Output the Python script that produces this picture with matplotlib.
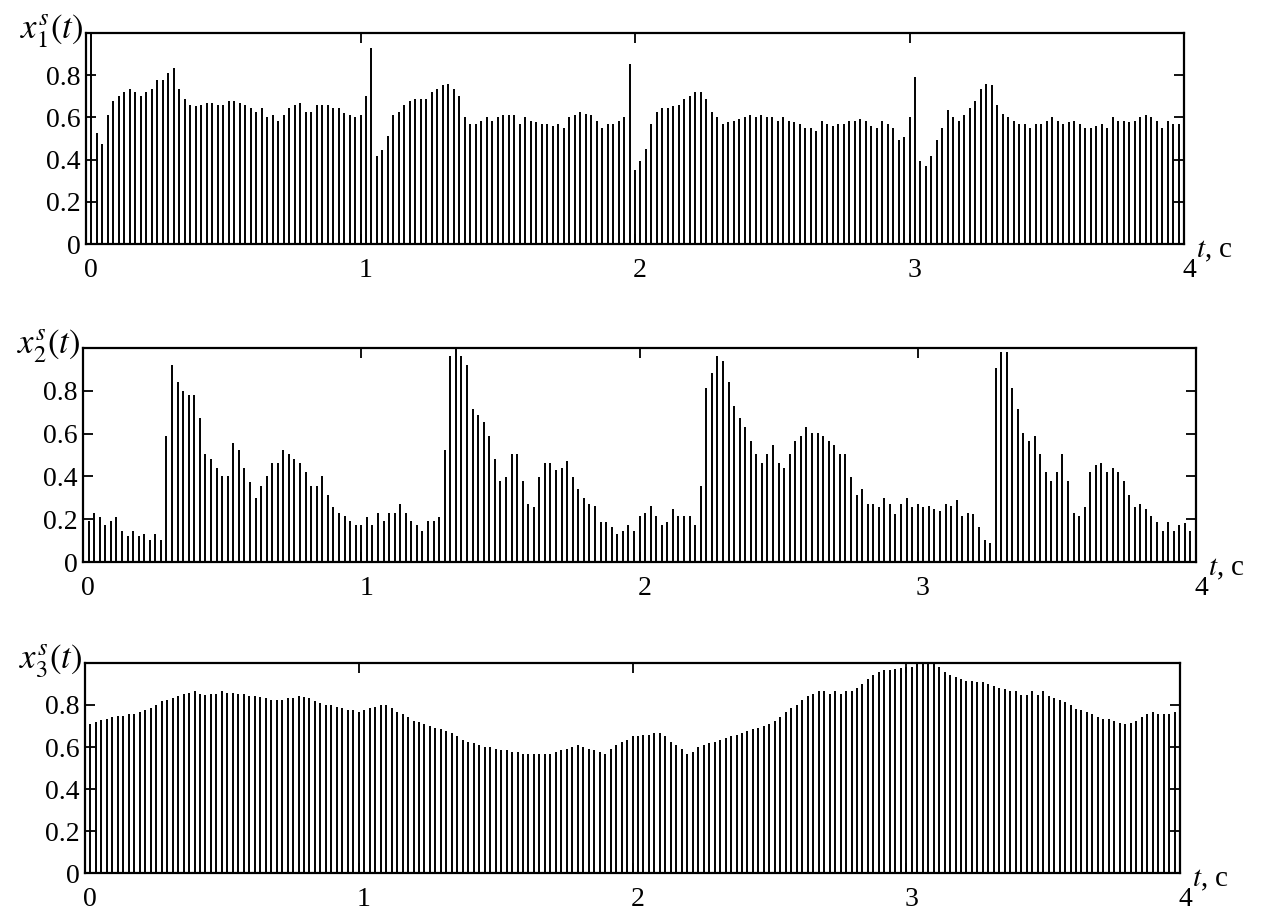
import numpy as np
import matplotlib
matplotlib.use("Agg")
import matplotlib.pyplot as plt
import matplotlib.transforms as mtransforms

plt.rcParams['font.family'] = 'Liberation Serif'
plt.rcParams['mathtext.fontset'] = 'stix'

# sampling step, 200 samples over 4 s
dt = 0.02
t = np.arange(1, 201) * dt

x1 = [1.0, 0.526, 0.476, 0.61, 0.676, 0.70, 0.719, 0.734, 0.719, 0.70,
      0.719, 0.734, 0.775, 0.775, 0.81, 0.834, 0.734, 0.686, 0.66, 0.652,
      0.66, 0.668, 0.668, 0.66, 0.66, 0.676, 0.676, 0.668, 0.66, 0.643,
      0.627, 0.643, 0.602, 0.61, 0.585, 0.61, 0.643, 0.66, 0.668, 0.627,
      0.627, 0.66, 0.66, 0.66, 0.643, 0.643, 0.619, 0.61, 0.602, 0.61,
      0.70, 0.928, 0.419, 0.444, 0.51, 0.61, 0.627, 0.66, 0.676, 0.686,
      0.686, 0.686, 0.719, 0.734, 0.752, 0.76, 0.734, 0.70, 0.602, 0.567,
      0.567, 0.585, 0.602, 0.585, 0.602, 0.61, 0.61, 0.61, 0.567, 0.602,
      0.585, 0.577, 0.567, 0.567, 0.56, 0.567, 0.552, 0.602, 0.61, 0.627,
      0.618, 0.61, 0.585, 0.552, 0.567, 0.567, 0.585, 0.602, 0.851, 0.35,
      0.392, 0.451, 0.567, 0.627, 0.643, 0.643, 0.652, 0.66, 0.686, 0.70,
      0.719, 0.719, 0.686, 0.627, 0.602, 0.567, 0.577, 0.585, 0.594, 0.602,
      0.61, 0.602, 0.61, 0.602, 0.602, 0.585, 0.602, 0.585, 0.577, 0.567,
      0.552, 0.552, 0.534, 0.585, 0.567, 0.56, 0.567, 0.567, 0.585, 0.585,
      0.594, 0.585, 0.56, 0.552, 0.585, 0.567, 0.552, 0.493, 0.509, 0.602,
      0.791, 0.392, 0.369, 0.418, 0.493, 0.552, 0.634, 0.602, 0.585, 0.61,
      0.643, 0.676, 0.734, 0.76, 0.752, 0.66, 0.618, 0.602, 0.585, 0.567,
      0.567, 0.552, 0.567, 0.567, 0.585, 0.602, 0.585, 0.567, 0.577, 0.585,
      0.567, 0.552, 0.552, 0.56, 0.567, 0.552, 0.602, 0.585, 0.585, 0.577,
      0.585, 0.602, 0.61, 0.602, 0.585, 0.552, 0.585, 0.567, 0.567, 0.567]

x2 = [0.19, 0.23, 0.21, 0.172, 0.19, 0.21, 0.145, 0.12, 0.145, 0.12,
      0.13, 0.105, 0.13, 0.105, 0.59, 0.922, 0.84, 0.797, 0.78, 0.78,
      0.672, 0.505, 0.48, 0.44, 0.40, 0.40, 0.555, 0.522, 0.44, 0.372,
      0.297, 0.356, 0.40, 0.464, 0.464, 0.522, 0.505, 0.48, 0.464, 0.422,
      0.356, 0.356, 0.40, 0.314, 0.255, 0.23, 0.214, 0.19, 0.172, 0.172,
      0.21, 0.172, 0.23, 0.19, 0.23, 0.23, 0.27, 0.23, 0.19, 0.172,
      0.145, 0.19, 0.19, 0.21, 0.522, 0.964, 1.0, 0.964, 0.922, 0.714,
      0.688, 0.655, 0.589, 0.48, 0.38, 0.397, 0.505, 0.505, 0.38, 0.272,
      0.255, 0.397, 0.464, 0.464, 0.43, 0.44, 0.472, 0.397, 0.339, 0.297,
      0.272, 0.264, 0.189, 0.189, 0.164, 0.13, 0.147, 0.172, 0.147, 0.214,
      0.23, 0.264, 0.214, 0.172, 0.189, 0.247, 0.214, 0.214, 0.214, 0.172,
      0.355, 0.814, 0.881, 0.964, 0.939, 0.839, 0.73, 0.672, 0.63, 0.564,
      0.505, 0.464, 0.505, 0.547, 0.464, 0.44, 0.505, 0.564, 0.589, 0.63,
      0.605, 0.605, 0.589, 0.564, 0.547, 0.505, 0.505, 0.397, 0.314, 0.339,
      0.272, 0.272, 0.255, 0.297, 0.272, 0.222, 0.272, 0.297, 0.255, 0.272,
      0.255, 0.264, 0.247, 0.239, 0.272, 0.264, 0.289, 0.214, 0.23, 0.222,
      0.164, 0.105, 0.089, 0.905, 0.981, 0.981, 0.814, 0.714, 0.605, 0.564,
      0.589, 0.505, 0.422, 0.38, 0.422, 0.505, 0.38, 0.23, 0.214, 0.255,
      0.422, 0.455, 0.464, 0.422, 0.44, 0.422, 0.38, 0.314, 0.255, 0.272,
      0.247, 0.214, 0.189, 0.147, 0.189, 0.147, 0.172, 0.18, 0.147, 0.16]

x3 = [0.71, 0.717, 0.727, 0.735, 0.743, 0.75, 0.75, 0.759, 0.759, 0.768,
      0.776, 0.786, 0.80, 0.817, 0.825, 0.833, 0.843, 0.851, 0.859, 0.867,
      0.851, 0.848, 0.851, 0.851, 0.867, 0.859, 0.859, 0.851, 0.851, 0.843,
      0.843, 0.838, 0.833, 0.825, 0.825, 0.825, 0.833, 0.833, 0.843, 0.838,
      0.833, 0.817, 0.81, 0.80, 0.80, 0.792, 0.784, 0.776, 0.776, 0.768,
      0.776, 0.784, 0.792, 0.80, 0.80, 0.784, 0.768, 0.759, 0.743, 0.725,
      0.717, 0.71, 0.702, 0.692, 0.684, 0.676, 0.667, 0.651, 0.633, 0.625,
      0.617, 0.608, 0.60, 0.60, 0.592, 0.584, 0.584, 0.575, 0.575, 0.567,
      0.567, 0.567, 0.567, 0.567, 0.567, 0.575, 0.584, 0.592, 0.60, 0.608,
      0.60, 0.592, 0.587, 0.575, 0.567, 0.592, 0.608, 0.625, 0.633, 0.651,
      0.651, 0.659, 0.659, 0.667, 0.667, 0.651, 0.625, 0.608, 0.592, 0.567,
      0.575, 0.60, 0.608, 0.617, 0.625, 0.633, 0.641, 0.651, 0.659, 0.667,
      0.676, 0.684, 0.692, 0.702, 0.71, 0.725, 0.741, 0.768, 0.784, 0.802,
      0.825, 0.843, 0.851, 0.867, 0.867, 0.851, 0.867, 0.851, 0.867, 0.867,
      0.881, 0.90, 0.924, 0.941, 0.957, 0.965, 0.965, 0.973, 0.976, 0.983,
      0.983, 1.0, 1.0, 1.0, 1.0, 0.983, 0.957, 0.941, 0.933, 0.924,
      0.916, 0.916, 0.91, 0.908, 0.90, 0.89, 0.883, 0.875, 0.867, 0.867,
      0.849, 0.849, 0.867, 0.849, 0.867, 0.841, 0.832, 0.824, 0.816, 0.798,
      0.783, 0.775, 0.767, 0.757, 0.741, 0.733, 0.733, 0.724, 0.716, 0.708,
      0.716, 0.724, 0.741, 0.757, 0.767, 0.757, 0.757, 0.757, 0.767, 0.767]

ylabels = [r'$x_1^s(t)$', r'$x_2^s(t)$', r'$x_3^s(t)$']
xticks = [0, 1, 2, 3, 4]
yticks = [0, 0.2, 0.4, 0.6, 0.8]
yticklabels = ['0', '0.2', '0.4', '0.6', '0.8']

W, H = 1267, 913
fig = plt.figure(figsize=(W / 100, H / 100), dpi=100)

# panel boxes in pixels: left, right, top, bottom
boxes = [(86, 1184, 33, 244), (83, 1196, 348, 562), (85, 1180, 663, 873)]

shift = mtransforms.ScaledTranslation(5 / 100, 0, fig.dpi_scale_trans)

for vals, name, (l, r, tp, b) in zip([x1, x2, x3], ylabels, boxes):
    ax = fig.add_axes([l / W, 1 - b / H, (r - l) / W, (b - tp) / H])
    ax.vlines(t, 0, vals, colors='black', linewidth=1.4)
    ax.set_xlim(0, 4)
    ax.set_ylim(0, 1)
    ax.set_xticks(xticks)
    ax.set_yticks(yticks)
    ax.set_yticklabels(yticklabels)
    ax.tick_params(direction='in', top=True, right=True, length=7,
                   width=1.3, labelsize=20)
    ax.tick_params(axis='x', pad=10)
    ax.tick_params(axis='y', pad=4)
    for lab in ax.get_xticklabels():
        lab.set_transform(lab.get_transform() + shift)
    for s in ax.spines.values():
        s.set_linewidth(1.6)
    ax.annotate(name, xy=(0, 1), xycoords='axes fraction', xytext=(-2, 1),
                textcoords='offset points', ha='right', va='center',
                fontsize=25)
    ax.annotate(r'$t$, c', xy=(1, 0), xycoords='axes fraction',
                xytext=(9, -5), textcoords='offset points', ha='left',
                va='center', fontsize=21)

fig.savefig('out.png', dpi=100)
